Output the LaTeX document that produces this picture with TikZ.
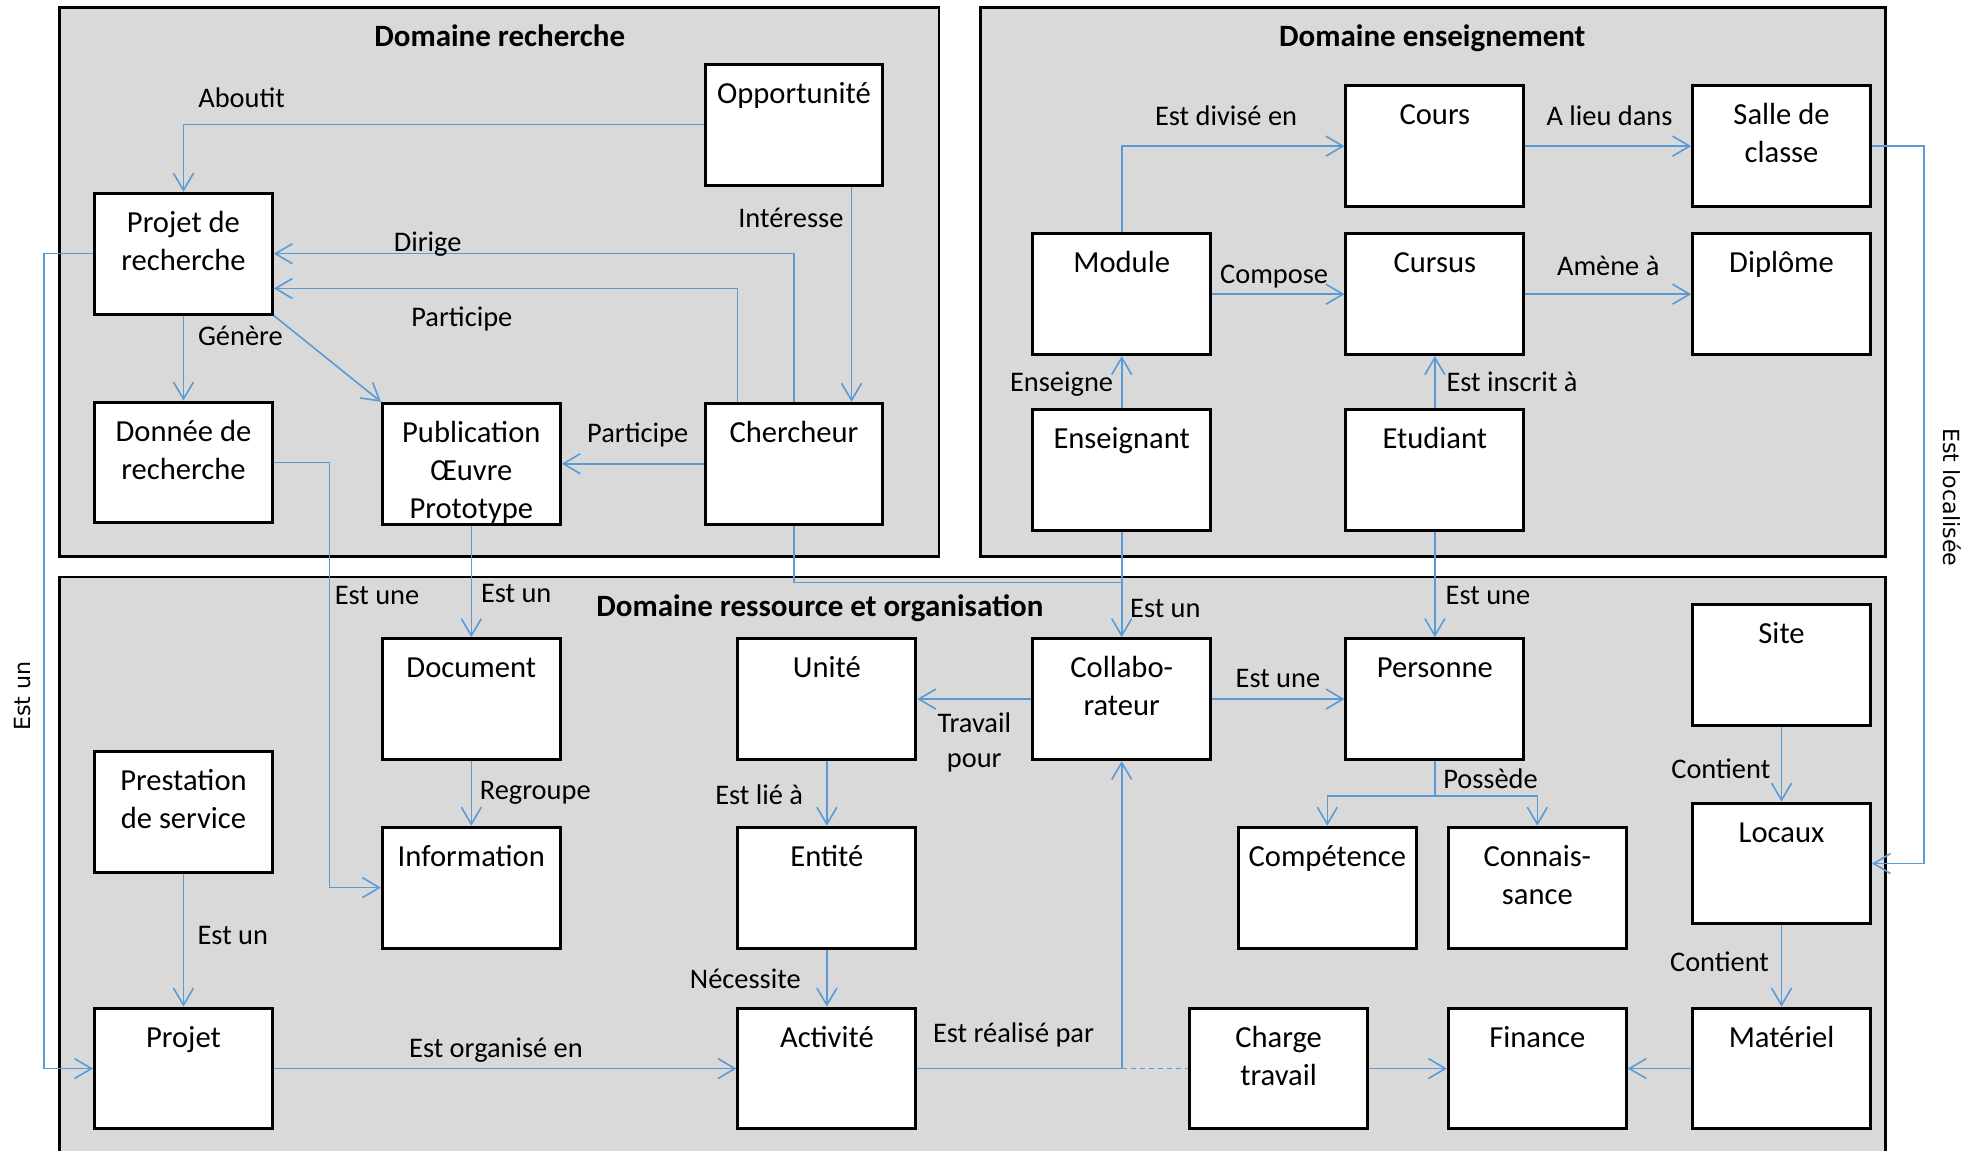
\documentclass[tikz,border=0pt]{standalone}
\usepackage{fontspec}
\setmainfont{Carlito}
\newfontfamily\rotfont{DejaVu Sans}
\usetikzlibrary{arrows.meta,calc}
\definecolor{dgray}{HTML}{D9D9D9}
\definecolor{cblue}{HTML}{5B9BD5}
\newcommand{\bx}[1]{\parbox[c][60pt][t]{88pt}{\centering\fontsize{15.3}{18.9}\selectfont\rule{0pt}{19.4pt}#1}}
\begin{document}
\begin{tikzpicture}[x=0.6327pt,y=-0.6327pt,
  domainbox/.style={fill=dgray, draw=black, line width=1.3pt},
  ent/.style={draw=black, line width=1.5pt, fill=white, minimum width=88.9pt, minimum height=60.4pt, inner sep=0pt},
  conn/.style={draw=cblue, line width=0.8pt},
  arr/.style={conn, -{Straight Barb[length=8.5pt,width=10pt]}},
  lab/.style={font=\fontsize{14.2}{17.5}\selectfont, inner sep=0pt, text height=13.2pt, text depth=3pt},
  lab2/.style={font=\fontsize{14.2}{17.5}\selectfont, inner sep=0pt, align=center},
  rlab/.style={font=\rotfont\fontsize{11.1}{13}\selectfont, inner sep=0pt},
  dtitle/.style={font=\fontsize{15.5}{18}\selectfont\bfseries, inner sep=0pt, text height=14.8pt, text depth=3.5pt}]
\useasboundingbox (0,0) rectangle (1568,909);
\clip (0,0) rectangle (1568,909);
\fill[white] (0,0) rectangle (1568,909);
% domains
\draw[domainbox] (47,6) rectangle (742,440);
\draw[domainbox] (775,6) rectangle (1490,440);
\draw[domainbox] (47,456) rectangle (1490,935);
\node[dtitle] (t1) at (395,28) {Domaine recherche};
\node[dtitle] (t2) at (1132,28) {Domaine enseignement};
\node[dtitle] (t3) at (648,478) {Domaine ressource et organisation};
% boxes
\node[ent] (opp) at (627.5,98.5) {\bx{Opportunit\'e}};
\node[ent] (pdr) at (145,200.5) {\bx{Projet de\\recherche}};
\node[ent] (don) at (145,365.5) {\bx{Donn\'ee de\\recherche}};
\node[ent] (pub) at (372.5,366.5) {\bx{Publication\\Œuvre\\Prototype}};
\node[ent] (che) at (627.5,366.5) {\bx{Chercheur}};
\node[ent] (cours) at (1134,115.5) {\bx{Cours}};
\node[ent] (salle) at (1408,115.5) {\bx{Salle de\\classe}};
\node[ent] (module) at (886.5,232.5) {\bx{Module}};
\node[ent] (cursus) at (1134,232.5) {\bx{Cursus}};
\node[ent] (dipl) at (1408,232.5) {\bx{Dipl\^ome}};
\node[ent] (ens) at (886.5,371.5) {\bx{Enseignant}};
\node[ent] (etu) at (1134,371.5) {\bx{Etudiant}};
\node[ent] (doc) at (372.5,552.5) {\bx{Document}};
\node[ent] (unite) at (653.5,552.5) {\bx{Unit\'e}};
\node[ent] (collab) at (886.5,552.5) {\bx{Collabo-\\rateur}};
\node[ent] (pers) at (1134,552.5) {\bx{Personne}};
\node[ent] (site) at (1408,525.5) {\bx{Site}};
\node[ent] (prest) at (145,641.5) {\bx{Prestation\\de service}};
\node[ent] (info) at (372.5,701.5) {\bx{Information}};
\node[ent] (entite) at (653.5,701.5) {\bx{Entit\'e}};
\node[ent] (comp) at (1049,701.5) {\bx{Comp\'etence}};
\node[ent] (conn) at (1215,701.5) {\bx{Connais-\\sance}};
\node[ent] (locaux) at (1408,682.5) {\bx{Locaux}};
\node[ent] (projet) at (145,844.5) {\bx{Projet}};
\node[ent] (activ) at (653.5,844.5) {\bx{Activit\'e}};
\node[ent] (charge) at (1010.5,844.5) {\bx{Charge\\travail}};
\node[ent] (finance) at (1215,844.5) {\bx{Finance}};
\node[ent] (materiel) at (1408,844.5) {\bx{Mat\'eriel}};
% connectors
\draw[arr] (opp.west) -| (pdr.north);
\draw[arr] ($(opp.south)+(45.5,0)$) -- ($(che.north)+(45.5,0)$);
\draw[arr] (che.north) |- (pdr.east);
\draw[arr] ($(che.north)+(-44.5,0)$) |- ($(pdr.east)+(0,27.5)$);
\draw[arr] (pdr.south) -- (don.north);
\draw[arr] (pdr.south east) -- (pub.north west);
\draw[arr] (che.west) -- (pub.east);
\draw[arr] (pdr.west) -- ++(-39,0) |- (projet.west);
\draw[arr] (don.east) -- ++(44,0) |- (info.west);
\draw[arr] (pub.south) -- (doc.north);
\draw[conn] (che.south) |- ($(ens.south)!0.48!(collab.north)$);
\draw[arr] (ens.south) -- (collab.north);
\draw[arr] (etu.south) -- (pers.north);
\draw[arr] (module.north) |- (cours.west);
\draw[arr] (cours.east) -- (salle.west);
\draw[arr] (module.east) -- (cursus.west);
\draw[arr] (cursus.east) -- (dipl.west);
\draw[arr] (ens.north) -- (module.south);
\draw[arr] (etu.north) -- (cursus.south);
\draw[arr] (salle.east) -- ++(41,0) |- (locaux.east);
\draw[arr] (collab.west) -- (unite.east);
\draw[arr] (collab.east) -- (pers.west);
\draw[arr] (pers.south) -- ++(0,27.5) -| (comp.north);
\draw[arr] (pers.south) -- ++(0,27.5) -| (conn.north);
\draw[arr] (doc.south) -- (info.north);
\draw[arr] (unite.south) -- (entite.north);
\draw[arr] (entite.south) -- (activ.north);
\draw[arr] (prest.south) -- (projet.north);
\draw[arr] (projet.east) -- (activ.west);
\draw[arr] (activ.east) -| (collab.south);
\draw[conn, dash pattern=on 2.5pt off 2pt] (collab.south |- activ.east) -- (charge.west);
\draw[arr] (charge.east) -- (finance.west);
\draw[arr] (materiel.west) -- (finance.east);
\draw[arr] (site.south) -- (locaux.north);
\draw[arr] (locaux.south) -- (materiel.north);
% labels
\node[lab] (l1) at (191,77) {Aboutit};
\node[lab] (l2) at (625,172) {Int\'eresse};
\node[lab] (l3) at (338,191) {Dirige};
\node[lab] (l4) at (365,250) {Participe};
\node[lab] (l5) at (190,265) {G\'en\`ere};
\node[lab] (l6) at (504,342) {Participe};
\node[lab] (l7) at (298,470) {Est une};
\node[lab] (l8) at (408,468) {Est un};
\node[lab] (l9) at (921,480) {Est un};
\node[lab] (l10) at (1176,470) {Est une};
\node[lab] (l11) at (969,91) {Est divis\'e en};
\node[lab] (l12) at (1272,91) {A lieu dans};
\node[lab] (l13) at (1007,216) {Compose};
\node[lab] (l14) at (1271,210) {Am\`ene \`a};
\node[lab] (l15) at (839,301) {Enseigne};
\node[lab] (l16) at (1195,301) {Est inscrit \`a};
\node[lab2] (l17) at (770,587) {Travail\\pour};
\node[lab] (l18) at (1010,535) {Est une};
\node[lab] (l19) at (1178,615) {Poss\`ede};
\node[lab] (l20) at (423,624) {Regroupe};
\node[lab] (l21) at (600,628) {Est li\'e \`a};
\node[lab] (l22) at (589,773) {N\'ecessite};
\node[lab] (l23) at (184,738) {Est un};
\node[lab] (l24) at (392,828) {Est organis\'e en};
\node[lab] (l25) at (801,816) {Est r\'ealis\'e par};
\node[lab] (l26) at (1360,607) {Contient};
\node[lab] (l27) at (1359,760) {Contient};
\node[rlab, rotate=90] (l28) at (18,550) {Est un};
\node[rlab, rotate=-90] (l29) at (1543,393) {Est localis\'ee};
\end{tikzpicture}
\end{document}
